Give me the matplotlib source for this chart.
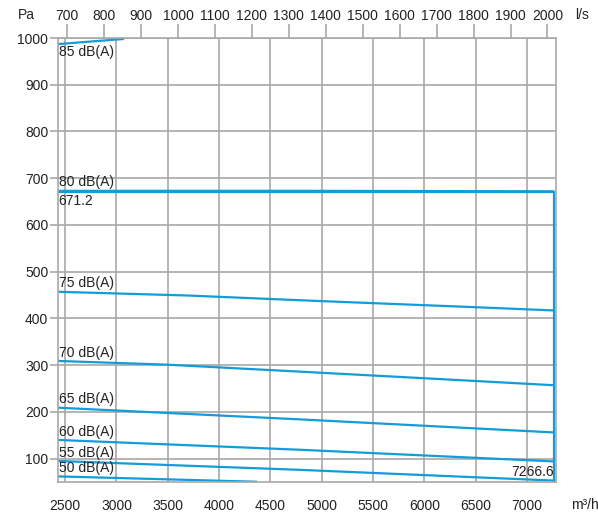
import numpy as np
import matplotlib
matplotlib.use('Agg')
import matplotlib.pyplot as plt

plt.rcParams['font.family'] = ['Liberation Sans', 'DejaVu Sans']
plt.rcParams['font.size'] = 10
plt.rcParams['text.color'] = '#222222'
plt.rcParams['xtick.labelcolor'] = '#222222'
plt.rcParams['ytick.labelcolor'] = '#222222'

# sound level curves, flow in m3/h, pressure in Pa
db_labels = ['85 dB(A)', '80 dB(A)', '75 dB(A)', '70 dB(A)', '65 dB(A)',
             '60 dB(A)', '55 dB(A)', '50 dB(A)']
db_x = [
    [2430, 3074],
    [2430, 4800, 7266.6],
    [2430, 3700, 4886, 6500, 7266.6],
    [2430, 3500, 4800, 6000, 7266.6],
    [2430, 4788, 7266.6],
    [2430, 4788, 7266.6],
    [2430, 4788, 7266.6],
    [2430, 4370],
]
db_y = [
    [987, 998],
    [673, 673, 672],
    [457, 449, 438, 424, 417],
    [309, 301, 286, 272, 257],
    [209, 184, 156],
    [140, 119, 94],
    [95, 76, 53],
    [62, 50.5],
]

# max operating limits
max_flow = 7266.6
max_pres = 671.2

x_ticks = [2500, 3000, 3500, 4000, 4500, 5000, 5500, 6000, 6500, 7000]
y_ticks = [100, 200, 300, 400, 500, 600, 700, 800, 900, 1000]
ls_ticks = [700, 800, 900, 1000, 1100, 1200, 1300, 1400, 1500, 1600, 1700,
            1800, 1900, 2000]

blue = '#129cda'
gray = '#a8a8a8'

fig = plt.figure(figsize=(5.98, 5.15), dpi=100)
ax = fig.add_axes([58/598, 1-482/515, (556-58)/598, (482-38)/515])

ax.set_xlim(2430, 7283)
ax.set_ylim(50, 1000)
ax.set_xticks(x_ticks)
ax.set_yticks(y_ticks)
ax.grid(True, color=gray, lw=1.2)
ax.set_axisbelow(True)
for s in ax.spines.values():
    s.set_color(gray)
    s.set_linewidth(1.2)
ax.tick_params(axis='x', length=0, pad=12, labelsize=10)
ax.tick_params(axis='y', length=6, pad=1, color=gray, width=1.2, labelsize=10)

for lab, xs, ys in zip(db_labels, db_x, db_y):
    ax.plot(xs, ys, color=blue, lw=1.6, solid_capstyle='butt')
    if lab.startswith('85'):
        ax.text(2435, ys[0] - 3, lab, va='top', ha='left', fontsize=10)
    else:
        ax.text(2435, ys[0] + 3, lab, va='bottom', ha='left', fontsize=10)

ax.plot([2430, max_flow, max_flow], [max_pres, max_pres, 50], color=blue, lw=1.6)
ax.text(2435, max_pres - 4, '671.2', va='top', ha='left', fontsize=10)
ax.text(max_flow, 56, '7266.6', va='bottom', ha='right', fontsize=10)

top = ax.secondary_xaxis('top', functions=(lambda q: q / 3.6, lambda q: q * 3.6))
top.set_xticks(ls_ticks)
top.tick_params(length=10, pad=0.8, color=gray, width=1.2, labelsize=10)
top.spines['top'].set_visible(False)

fig.text(35/598, 1-15/515, 'Pa', ha='right', va='center', fontsize=10)
fig.text(575/598, 1-15/515, 'l/s', ha='left', va='center', fontsize=10)
fig.text(571/598, 1-505/515, 'm³/h', ha='left', va='center', fontsize=10)

plt.savefig('out.png', dpi=100)
